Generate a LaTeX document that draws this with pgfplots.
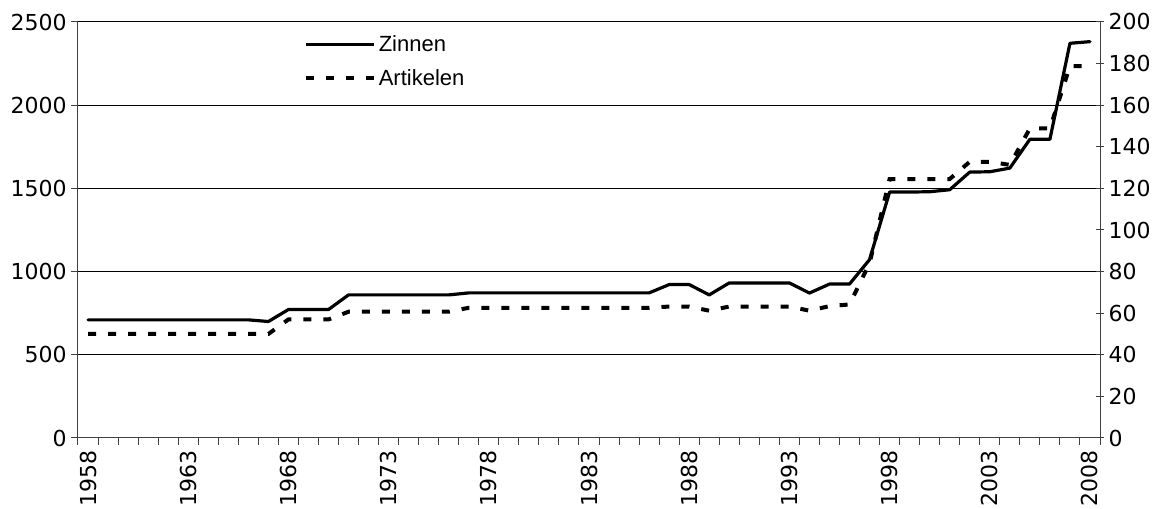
\documentclass[border=0pt]{standalone}
\usepackage{pgfplots}
\pgfplotsset{compat=1.18}
\usepackage{pgfplotstable}
\usepackage{fontspec}
\setmainfont{DejaVu Sans}
\newfontfamily\arialfont{Liberation Sans}

\pgfplotstableread{
i Z A
0 710 50
1 710 50
2 710 50
3 710 50
4 710 50
5 710 50
6 710 50
7 710 50
8 710 50
9 700 50
10 772 57
11 772 57
12 772 57
13 860 60.7
14 860 60.7
15 860 60.7
16 860 60.7
17 860 60.7
18 860 60.7
19 872 62.6
20 872 62.6
21 872 62.6
22 872 62.6
23 872 62.6
24 872 62.6
25 872 62.6
26 872 62.6
27 872 62.6
28 872 62.6
29 922 63.2
30 922 63.2
31 860 61.2
32 932 63.2
33 932 63.2
34 932 63.2
35 932 63.2
36 871 61.2
37 925 63.4
38 925 64.2
39 1072 84
40 1478 124.5
41 1478 124.5
42 1480 124.5
43 1492 124.5
44 1598 132.8
45 1600 132.8
46 1622 131.3
47 1795 148.8
48 1795 148.8
49 2372 178.8
50 2382 178.8
}\data

\begin{document}
\begin{tikzpicture}
\path[use as bounding box] (-58.5pt,-53.25pt) rectangle (813pt,328.5pt);
\pgfplotsset{
  common/.style={
    width=766.5pt, height=312pt, scale only axis,
    at={(0pt,0pt)}, anchor=south west,
    xmin=-0.5, xmax=50.5,
    ticklabel style={font=\fontsize{16.5}{18}\selectfont},
    /pgf/number format/assume math mode=true,
    /pgf/number format/1000 sep={},
    axis line style={-, line width=0.75pt, black!75},
    every tick/.style={black!75, line width=0.75pt},
  }
}
\begin{axis}[common,
  ymin=0, ymax=2500, ytick={0,500,...,2500},
  ymajorgrids, grid style={black, line width=0.75pt},
  axis x line*=bottom, axis y line*=left,
  xtick={0,5,...,50},
  xticklabels={1958,1963,1968,1973,1978,1983,1988,1993,1998,2003,2008},
  x tick label style={rotate=90, anchor=east},
  major x tick style={draw=none},
  minor xtick={-0.5,0.5,...,50.5},
  tick align=outside,
  major tick length=5pt, minor tick length=5pt,
  xticklabel shift=1pt,
]
\addplot[black, line width=2.4pt, line join=round, line cap=round] table[x=i,y=Z] {\data};
\end{axis}
\begin{axis}[common,
  ymin=0, ymax=200, ytick={0,20,...,200},
  axis y line*=right, axis x line=none,
  tick align=center, major tick length=6pt,
  legend style={draw=none, fill=none, at={(0.221,0.975)}, anchor=north west,
    font=\arialfont\fontsize{16.5}{18}\selectfont, row sep=8pt,
    inner sep=0pt},
  legend cell align=left,
  legend image code/.code={\draw[#1] (0pt,0pt) -- (51pt,0pt);},
]
\addlegendimage{black, line width=2.4pt}
\addlegendentry{Zinnen}
\addplot[black, line width=3pt, dash pattern=on 6pt off 9pt] table[x=i,y=A] {\data};
\addlegendentry{Artikelen}
\end{axis}
\end{tikzpicture}
\end{document}
